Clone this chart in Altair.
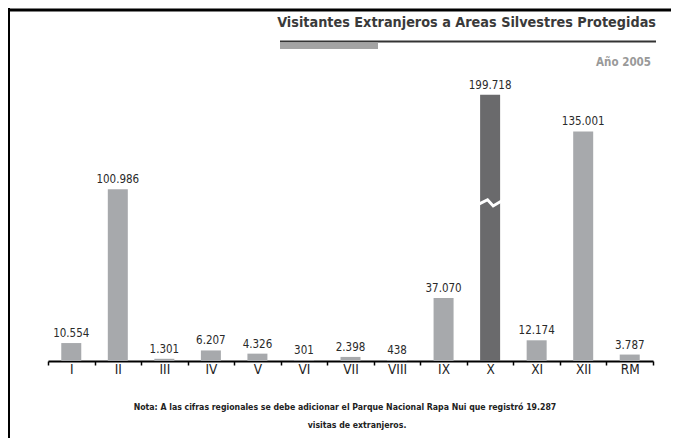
import altair as alt
import pandas as pd

# ---- data ----
regions = ["I", "II", "III", "IV", "V", "VI", "VII", "VIII", "IX", "X", "XI", "XII", "RM"]
visitors = [10554, 100986, 1301, 6207, 4326, 301, 2398, 438, 37070, 199718, 12174, 135001, 3787]
highlight = ["X"]          # the dark, broken bar
axis_break_top = 156500    # drawn height of the broken bar (value units)
axis_break_at = 93000      # where the zig-zag cut sits (value units)

title_text = "Visitantes Extranjeros a Areas Silvestres Protegidas"
subtitle_text = "Año 2005"
note_line1 = "Nota:  A las cifras regionales se debe adicionar el Parque Nacional  Rapa Nui  que registró 19.287"
note_line2 = "visitas de extranjeros."

FONT = "Liberation Sans Narrow, DejaVu Sans Condensed, Arial Narrow, sans-serif"

df = pd.DataFrame({
    "region": regions,
    "visitors": visitors,
})
df["shown"] = [min(v, axis_break_top) for v in visitors]
df["label"] = [f"{v:,}".replace(",", ".") for v in visitors]
df["hl"] = ["dark" if r in highlight else "light" for r in regions]

W, H = 605, 352
x_scale = alt.Scale(paddingInner=0, paddingOuter=0)
x_enc = alt.X("region:N", sort=regions, scale=x_scale,
              axis=alt.Axis(title=None, labelAngle=0, tickBand="extent",
                            domainColor="black", domainWidth=2,
                            tickColor="black", tickWidth=1.5, tickSize=4,
                            labelFont=FONT, labelFontSize=13.5, labelColor="#222222",
                            labelPadding=-3, grid=False))
y_scale = alt.Scale(domain=[0, 207000])

base = alt.Chart(df)

bars = base.mark_bar(width=20).encode(
    x=x_enc,
    y=alt.Y("shown:Q", scale=y_scale, axis=None),
    color=alt.Color("hl:N", scale=alt.Scale(domain=["light", "dark"],
                                            range=["#a7a9ac", "#6a6a6c"]), legend=None),
)

labels = base.mark_text(font=FONT, fontSize=11.5, color="#2a2a2a", baseline="alphabetic", dy=-6).encode(
    x=alt.X("region:N", sort=regions, scale=x_scale),
    y=alt.Y("shown:Q", scale=y_scale),
    text="label:N",
)

brk_df = pd.DataFrame({"region": highlight, "at": [axis_break_at]})
brk = alt.Chart(brk_df).mark_point(
    shape="M-1.15,0.15 L-0.25,-0.3 L0.3,0.3 L1.15,-0.2",
    filled=False, stroke="white", strokeWidth=3, size=420, opacity=1,
).encode(
    x=alt.X("region:N", sort=regions, scale=x_scale),
    y=alt.Y("at:Q", scale=y_scale),
)

one = alt.Data(values=[{"a": 1}])

top_border = alt.Chart(one).mark_rule(color="black", strokeWidth=3).encode(
    x=alt.value(-42), x2=alt.value(650), y=alt.value(1))
left_border = alt.Chart(one).mark_rule(color="black", strokeWidth=3).encode(
    x=alt.value(-39.5), y=alt.value(-2), y2=alt.value(440))

title = alt.Chart(one).mark_text(text=title_text, font=FONT, fontSize=14.3, fontWeight="bold",
                                 color="#3a3a3a", align="right", baseline="alphabetic").encode(
    x=alt.value(608), y=alt.value(18))
title_rule = alt.Chart(one).mark_rule(color="#333333", strokeWidth=2).encode(
    x=alt.value(232), x2=alt.value(608), y=alt.value(32.5))
title_bar = alt.Chart(one).mark_rect(color="#a3a3a3").encode(
    x=alt.value(232), x2=alt.value(330), y=alt.value(33.5), y2=alt.value(40))
subtitle = alt.Chart(one).mark_text(text=subtitle_text, font=FONT, fontSize=11.5, fontWeight="bold",
                                    color="#999999", align="right", baseline="alphabetic").encode(
    x=alt.value(603), y=alt.value(57))

note1 = alt.Chart(one).mark_text(text=note_line1, font=FONT, fontSize=8.7, fontWeight="bold",
                                 color="#222222", align="center", baseline="alphabetic").encode(
    x=alt.value(297), y=alt.value(401))
note2 = alt.Chart(one).mark_text(text=note_line2, font=FONT, fontSize=8.7, fontWeight="bold",
                                 color="#222222", align="center", baseline="alphabetic").encode(
    x=alt.value(309), y=alt.value(419))

chart = alt.layer(
    bars, labels, brk,
    top_border, left_border, title, title_rule, title_bar, subtitle, note1, note2,
).properties(
    width=W, height=H,
    autosize=alt.AutoSizeParams(type="none"),
    padding={"left": 40, "top": 1, "right": 18, "bottom": 77},
    background="white",
).configure_view(stroke=None)

chart.save("out.html", embed_options={"renderer": "svg", "actions": False})
